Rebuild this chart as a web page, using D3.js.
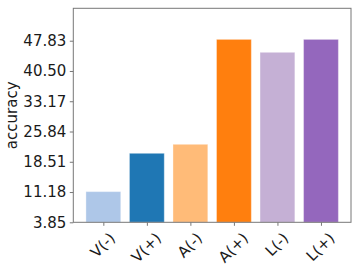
<!DOCTYPE html>
<html><head><meta charset="utf-8">
<script src="https://cdn.jsdelivr.net/npm/d3@7"></script>
<style>
html,body{margin:0;padding:0;background:#fff;}
svg{display:block;font-family:"DejaVu Sans",sans-serif;}
</style></head>
<body><svg id="c" width="359" height="274"></svg>
<script>
const categories = ["V(-)","V(+)","A(-)","A(+)","L(-)","L(+)"];
const values = [11.28, 20.56, 22.74, 48.15, 45.02, 48.15];
const colors = ["#aec7e8","#1f77b4","#ffbb78","#ff7f0e","#c5b0d5","#9467bd"];
const yTicks = [3.85, 11.18, 18.51, 25.84, 33.17, 40.50, 47.83];
const yLabel = "accuracy";

const L = 73.3, R = 351, T = 8.3, B = 222.3;
const svg = d3.select("#c");
const x = d3.scaleLinear().domain([-0.69, 5.69]).range([L, R]);
const y = d3.scaleLinear().domain([3.85, 55.68]).range([B, T]);
const unit = x(1) - x(0);
const bw = 0.8 * unit;

svg.append("g").selectAll("rect").data(values).join("rect")
  .attr("x", (d,i) => x(i) - bw/2)
  .attr("y", d => y(d))
  .attr("width", bw)
  .attr("height", d => B - y(d))
  .attr("fill", (d,i) => colors[i])
  .attr("stroke", "#fff").attr("stroke-opacity", 0.35).attr("stroke-width", 1);

const axisColor = "#777";
const textColor = "#1a1a1a";

// Y axis
const ya = svg.append("g").attr("transform", `translate(${L},0)`)
  .call(d3.axisLeft(y).tickValues(yTicks).tickFormat(d3.format(".2f")).tickSize(3.5).tickPadding(3.5));
ya.select(".domain").remove();
ya.selectAll(".tick line").attr("stroke", axisColor);
ya.selectAll(".tick text").attr("fill", textColor).style("font-size", "15px")
  .style("font-family", "DejaVu Sans");

// X axis
const xa = svg.append("g").attr("transform", `translate(0,${B})`)
  .call(d3.axisBottom(x).tickValues(d3.range(categories.length)).tickFormat(i => categories[i]).tickSize(3.5).tickPadding(3.5));
xa.select(".domain").remove();
xa.selectAll(".tick line").attr("stroke", axisColor);
xa.selectAll(".tick text").each(function(){
  const t = d3.select(this);
  t.attr("fill", textColor).style("font-size", "15px").style("font-family","DejaVu Sans")
   .attr("y", null).attr("dy", null)
   .attr("text-anchor", "middle").attr("dominant-baseline", "central");
  const bb = this.getBBox();
  const w = bb.width, h = 15 * 1.17;
  const half = (w + h) / (2 * Math.SQRT2);
  const top = 7;
  t.attr("transform", `translate(-1,${top + half}) rotate(-45)`);
});

// Frame
svg.append("rect").attr("x", L).attr("y", T).attr("width", R - L).attr("height", B - T)
  .attr("fill", "none").attr("stroke", axisColor).attr("stroke-width", 1);

// Y label
svg.append("text").attr("transform", `translate(12,${(T+B)/2}) rotate(-90)`)
  .attr("text-anchor", "middle").attr("dominant-baseline", "central")
  .attr("fill", textColor).style("font-size", "15px").text(yLabel);
</script></body></html>
